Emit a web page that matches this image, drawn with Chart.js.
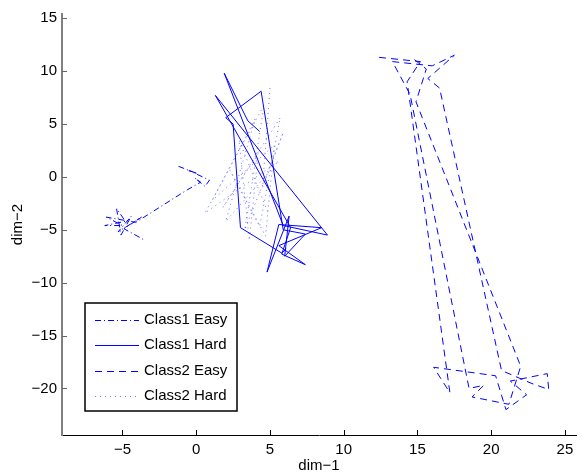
<!DOCTYPE html>
<html>
<head>
<meta charset="utf-8">
<script src="https://cdn.jsdelivr.net/npm/chart.js@4"></script>
<style>
  body { margin: 0; background: #fff; }
  canvas { display: block; }
</style>
</head>
<body>
<canvas id="myChart" width="581" height="474"></canvas>
<script>
// series as [dim-1, dim-2] pairs
let class1Easy = [
    [-1.2, 1.0], [0.1, 0.3], [-0.5, 0.6], [0.9, -0.3], [0.6, -0.9], [-0.1, -0.1],
    [0.3, -0.5], [-0.7, -1.3], [-4.1, -4.3], [-6.1, -3.8], [-5.0, -4.6], [-6.2, -4.6],
    [-4.8, -4.2], [-5.4, -3.0], [-5.1, -5.5], [-4.4, -3.7], [-5.3, -5.2], [-3.7, -3.8],
    [-4.9, -4.9], [-3.6, -5.9]
];
let class1Hard = [
    [4.3, 4.3], [3.5, 5.3], [1.9, 9.8], [5.9, -4.6], [8.9, -5.5], [1.3, 7.7],
    [6.4, -4.8], [5.8, -7.3], [7.4, -8.3], [5.6, -6.5], [8.5, -4.8], [5.6, -4.5],
    [4.8, -9.0], [6.3, -3.7], [6.0, -7.5], [7.4, -5.4], [5.9, -5.0], [4.4, 8.1],
    [2.0, 5.6], [2.5, 5.0], [3.0, -4.8], [5.8, -7.2], [6.1, -6.8]
];
let class2Easy = [
    [12.4, 11.3], [15.2, 10.9], [14.3, 9.0], [17.2, -20.4], [16.1, -18.0], [20.3, -18.8],
    [21.0, -22.0], [22.4, -20.6], [21.3, -19.3], [23.8, -18.6], [23.9, -20.1], [22.7, -19.5],
    [20.7, -18.3], [16.5, 8.4], [15.7, 9.3], [17.5, 11.5], [16.0, 10.5], [13.3, 10.9],
    [14.5, 7.8], [18.5, -20.0], [19.5, -19.7], [18.7, -20.8], [21.2, -21.5], [22.0, -17.9],
    [14.9, 7.1], [15.6, 10.2], [14.6, 11.3]
];
let class2Hard = [
    [5.0, 8.4], [4.5, -1.0], [5.9, 4.2], [3.3, -5.0], [4.6, 6.8], [0.6, -3.4],
    [5.6, 1.5], [2.0, -4.2], [4.0, 5.5], [1.1, -2.2], [5.3, 3.0], [4.7, -5.6],
    [2.3, 0.6], [4.3, -4.7], [5.7, 5.6], [1.8, -2.9], [4.2, 2.2], [3.6, -6.0],
    [2.9, 3.5], [4.9, -3.5]
];
let seriesNames = ['Class1 Easy', 'Class1 Hard', 'Class2 Easy', 'Class2 Hard'];

// axis limits
let xMin = -9.1, xMax = 25.75, yMin = -24.4, yMax = 15.4;

let font = "'Liberation Sans', Arial, Helvetica, sans-serif";
let blue = '#0000ff';

function toPoints(arr) {
    return arr.map(p => ({ x: p[0], y: p[1] }));
}

function minusSign(v) {
    return String(v).replace('-', '\u2212');
}

// tick marks pointing into the plot, like matlab
let inwardTicks = {
    id: 'inwardTicks',
    afterDraw(chart) {
        let ctx = chart.ctx, a = chart.chartArea;
        let xs = chart.scales.x, ys = chart.scales.y;
        ctx.save();
        ctx.lineWidth = 1;
        ctx.strokeStyle = '#000';
        ctx.beginPath();
        xs.ticks.forEach(t => {
            let p = Math.round(xs.getPixelForValue(t.value)) + 0.5;
            ctx.moveTo(p, a.bottom);
            ctx.lineTo(p, a.bottom - 5);
        });
        ctx.stroke();
        ctx.strokeStyle = '#666';
        ctx.beginPath();
        ys.ticks.forEach(t => {
            let p = Math.round(ys.getPixelForValue(t.value)) + 0.5;
            ctx.moveTo(a.left, p);
            ctx.lineTo(a.left + 5, p);
        });
        ctx.stroke();
        ctx.restore();
    }
};

// boxed legend in the lower left corner
let boxLegend = {
    id: 'boxLegend',
    afterDraw(chart) {
        let ctx = chart.ctx;
        ctx.save();
        ctx.fillStyle = '#fff';
        ctx.fillRect(85, 303, 152, 108);
        ctx.lineWidth = 1.5;
        ctx.strokeStyle = '#000';
        ctx.strokeRect(85, 303, 152, 108);
        ctx.font = '15px ' + font;
        ctx.textBaseline = 'middle';
        chart.data.datasets.forEach((ds, i) => {
            let y = 319.5 + i * 25.5;
            ctx.strokeStyle = ds.borderColor;
            ctx.lineWidth = 1;
            ctx.setLineDash(ds.borderDash);
            ctx.beginPath();
            ctx.moveTo(95, Math.round(y) + 0.5);
            ctx.lineTo(139, Math.round(y) + 0.5);
            ctx.stroke();
            ctx.setLineDash([]);
            ctx.fillStyle = '#000';
            ctx.fillText(ds.label, 144, y);
        });
        ctx.restore();
    }
};

let dashes = [[6, 3, 1, 3], [], [7, 5], [1, 4]];
let colors = [blue, blue, blue, 'rgba(0,0,255,0.55)'];
let allSeries = [class1Easy, class1Hard, class2Easy, class2Hard];

let ctx = document.getElementById('myChart').getContext('2d');
let myChart = new Chart(ctx, {
    type: 'scatter',
    data: {
        datasets: allSeries.map((s, i) => ({
            label: seriesNames[i],
            data: toPoints(s),
            showLine: true,
            borderColor: colors[i],
            borderWidth: 1,
            borderDash: dashes[i],
            pointRadius: 0,
            tension: 0,
            fill: false
        }))
    },
    options: {
        responsive: false,
        animation: false,
        layout: { padding: { top: 12, right: 5, left: 0, bottom: 0 } },
        plugins: {
            legend: { display: false },
            tooltip: { enabled: false }
        },
        scales: {
            x: {
                type: 'linear',
                min: xMin,
                max: xMax,
                afterFit: s => { s.height = 39; },
                grid: { display: false, drawTicks: false },
                border: { display: true, color: '#000', width: 1 },
                ticks: {
                    stepSize: 5,
                    includeBounds: false,
                    autoSkip: false,
                    maxRotation: 0,
                    padding: 6,
                    color: '#000',
                    font: { family: font, size: 15 },
                    callback: v => minusSign(v)
                },
                title: {
                    display: true,
                    text: 'dim\u22121',
                    color: '#000',
                    font: { family: font, size: 15 },
                    padding: { top: 0, bottom: -1 }
                }
            },
            y: {
                type: 'linear',
                min: yMin,
                max: yMax,
                afterFit: s => { s.width = 62; },
                grid: { display: false, drawTicks: false },
                border: { display: true, color: '#808080', width: 2 },
                ticks: {
                    stepSize: 5,
                    includeBounds: false,
                    autoSkip: false,
                    padding: 5,
                    color: '#000',
                    font: { family: font, size: 15 },
                    callback: v => minusSign(v)
                },
                title: {
                    display: true,
                    text: 'dim\u22122',
                    color: '#000',
                    font: { family: font, size: 15 },
                    padding: { top: 9, bottom: 0 }
                }
            }
        }
    },
    plugins: [inwardTicks, boxLegend]
});
</script>
</body>
</html>
